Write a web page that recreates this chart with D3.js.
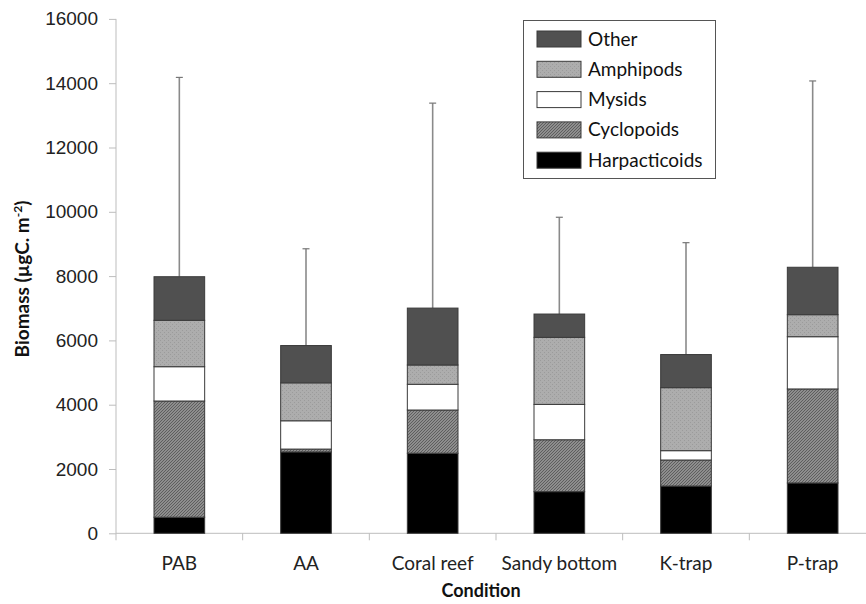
<!DOCTYPE html>
<html>
<head>
<meta charset="utf-8">
<script src="https://cdn.jsdelivr.net/npm/d3@7"></script>
<style>
  body { margin: 0; background: #fff; }
  svg { display: block; font-family: Lato, "Open Sans", sans-serif; }
</style>
</head>
<body>
<svg id="chart" width="866" height="604"></svg>
<script>
// data
const conditions = ["PAB", "AA", "Coral reef", "Sandy bottom", "K-trap", "P-trap"];
const groups = ["Harpacticoids", "Cyclopoids", "Mysids", "Amphipods", "Other"];
const harpacticoids = [500, 2530, 2490, 1295, 1470, 1565];
const cyclopoids    = [3615, 90, 1345, 1615, 810, 2925];
const mysids        = [1067, 880, 800, 1100, 290, 1625];
const amphipods     = [1443, 1180, 600, 2085, 1960, 685];
const other         = [1356, 1160, 1770, 725, 1030, 1475];
const errTop        = [14180, 8850, 13380, 9830, 9040, 14070];
const yTicks        = [0, 2000, 4000, 6000, 8000, 10000, 12000, 14000, 16000];

const series = [harpacticoids, cyclopoids, mysids, amphipods, other];

// build table for d3.stack
const table = conditions.map((c, i) => {
    let row = {condition: c};
    groups.forEach((g, j) => { row[g] = series[j][i]; });
    return row;
});

const svg = d3.select("#chart");

// fills, patterns for the textured ones
const defs = svg.append("defs");
let p = defs.append("pattern").attr("id", "cyc").attr("patternUnits", "userSpaceOnUse")
    .attr("width", 3).attr("height", 3);
p.append("rect").attr("width", 3).attr("height", 3).attr("fill", "#8e8e8e");
p.append("path").attr("d", "M0,3 L3,0 M-1,1 L1,-1 M2,4 L4,2").attr("stroke", "#5e5e5e").attr("stroke-width", 1);

let q = defs.append("pattern").attr("id", "amp").attr("patternUnits", "userSpaceOnUse")
    .attr("width", 4).attr("height", 4);
q.append("rect").attr("width", 4).attr("height", 4).attr("fill", "#adadad");
q.append("rect").attr("width", 1).attr("height", 1).attr("fill", "#9b9b9b");
q.append("rect").attr("x", 2).attr("y", 2).attr("width", 1).attr("height", 1).attr("fill", "#9b9b9b");

const fills = {
    "Harpacticoids": "#000",
    "Cyclopoids": "url(#cyc)",
    "Mysids": "#fff",
    "Amphipods": "url(#amp)",
    "Other": "#505050"
};

const x = d3.scaleBand().domain(conditions).range([116, 876]).paddingInner(0.6).paddingOuter(0.3);
const xb = d3.scaleLinear().domain([0, conditions.length]).range([116, 876]);
const y = d3.scaleLinear().domain([0, 16000]).range([533.3, 18.9]);

// y axis
const yAxis = svg.append("g").attr("transform", "translate(116,0)")
    .call(d3.axisLeft(y).tickValues(yTicks).tickSize(7).tickPadding(11).tickFormat(d3.format("d")));
yAxis.select(".domain").attr("stroke", "#bdbdbd").attr("d", "M0," + y(16000) + "V" + y(0));
yAxis.selectAll(".tick line").attr("stroke", "#bdbdbd");
yAxis.selectAll("text").attr("font-size", 19).attr("fill", "#222");

// x axis, ticks between categories
const xAxis = svg.append("g").attr("transform", "translate(0," + y(0) + ")");
xAxis.append("line").attr("x1", 116).attr("x2", 876).attr("stroke", "#bdbdbd");
xAxis.selectAll(".xt").data(d3.range(conditions.length + 1)).enter().append("line")
    .attr("x1", d => xb(d)).attr("x2", d => xb(d)).attr("y1", 0).attr("y2", 7)
    .attr("stroke", "#bdbdbd");
xAxis.selectAll(".xl").data(conditions).enter().append("text")
    .attr("x", d => x(d) + x.bandwidth() / 2).attr("y", 37)
    .attr("text-anchor", "middle").attr("font-size", 19).attr("fill", "#222")
    .text(d => d);

// error bars (drawn first, bars cover bottom)
const err = svg.append("g");
conditions.forEach((c, i) => {
    const cx = x(c) + x.bandwidth() / 2;
    const total = d3.sum(series, s => s[i]);
    err.append("line").attr("x1", cx).attr("x2", cx).attr("y1", y(total)).attr("y2", y(errTop[i]))
        .attr("stroke", "#8a8a8a").attr("stroke-width", 1.6);
    err.append("line").attr("x1", cx - 3.5).attr("x2", cx + 3.5).attr("y1", y(errTop[i])).attr("y2", y(errTop[i]))
        .attr("stroke", "#777").attr("stroke-width", 1.2);
});

// stacked bars
const stacked = d3.stack().keys(groups)(table);
svg.append("g").selectAll("g").data(stacked).enter().append("g")
    .attr("fill", d => fills[d.key])
    .selectAll("rect").data(d => d).enter().append("rect")
    .attr("x", d => x(d.data.condition))
    .attr("width", x.bandwidth())
    .attr("y", d => y(d[1]))
    .attr("height", d => y(d[0]) - y(d[1]))
    .attr("stroke", "#3a3a3a").attr("stroke-width", 1);

// legend
const leg = svg.append("g");
leg.append("rect").attr("x", 523.5).attr("y", 20.5).attr("width", 192).attr("height", 158)
    .attr("fill", "#fff").attr("stroke", "#555").attr("stroke-width", 1);
const legOrder = groups.slice().reverse();
legOrder.forEach((g, i) => {
    const ly = 31 + i * 30.3;
    leg.append("rect").attr("x", 537).attr("y", ly).attr("width", 44).attr("height", 16)
        .attr("fill", fills[g]).attr("stroke", "#3a3a3a").attr("stroke-width", 1);
    leg.append("text").attr("x", 588).attr("y", ly + 14.5).attr("font-size", 19).attr("fill", "#111")
        .text(g);
});

// axis titles
const yt = svg.append("text").attr("transform", "translate(29,279) rotate(-90)")
    .attr("text-anchor", "middle").attr("font-size", 19).attr("font-weight", "bold").attr("fill", "#111");
yt.append("tspan").text("Biomass (µgC. m");
yt.append("tspan").attr("font-size", 12).attr("dy", -7).text("-2");
yt.append("tspan").attr("dy", 7).text(")");
svg.append("text").attr("x", 481).attr("y", 597)
    .attr("text-anchor", "middle").attr("font-size", 18).attr("font-weight", "bold").attr("fill", "#111")
    .text("Condition");
</script>
</body>
</html>
